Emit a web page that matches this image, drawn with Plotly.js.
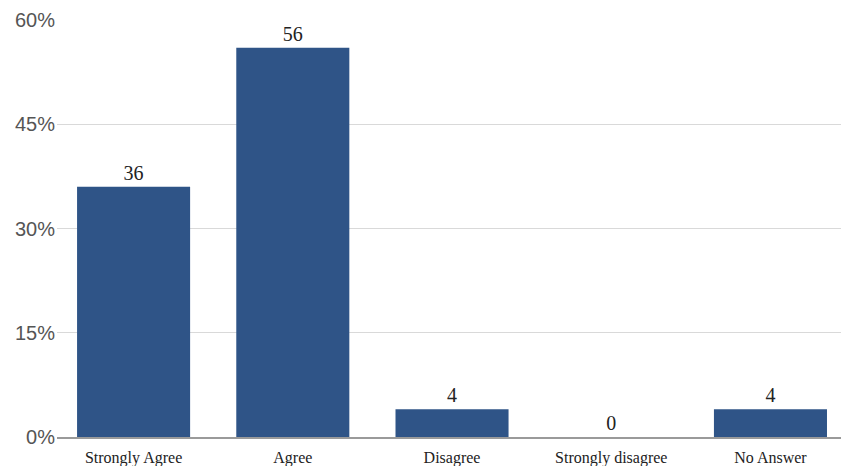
<!DOCTYPE html>
<html>
<head>
<meta charset="utf-8">
<script src="https://cdn.plot.ly/plotly-3.0.1.min.js"></script>
<style>
  html, body { margin: 0; padding: 0; background: #fff; }
  #chart { width: 841px; height: 466px; }
</style>
</head>
<body>
<div id="chart"></div>
<script>
const categories = ["Strongly Agree", "Agree", "Disagree", "Strongly disagree", "No Answer"];
const percentValues = [36, 56, 4, 0, 4];
const yTickValues = [0, 15, 30, 45, 60];
const yTickLabels = ["0%", "15%", "30%", "45%", "60%"];

const trace = {
  type: "bar",
  x: categories,
  y: percentValues,
  marker: { color: "#2f5487" },
  text: percentValues.map(String),
  textposition: "outside",
  textfont: { family: "Liberation Serif, Times New Roman, serif", size: 20, color: "#222" },
  cliponaxis: false,
  hoverinfo: "skip"
};

const layout = {
  width: 841,
  height: 466,
  margin: { l: 57, r: 0, t: 20, b: 29 },
  paper_bgcolor: "#fff",
  plot_bgcolor: "#fff",
  bargap: 0.29,
  showlegend: false,
  xaxis: {
    type: "category",
    range: [-0.481, 4.443],
    showgrid: false,
    showline: true,
    linecolor: "#9a9a9a",
    linewidth: 1.5,
    ticks: "",
    ticklabelstandoff: 5,
    tickfont: { family: "Liberation Serif, Times New Roman, serif", size: 16, color: "#222" },
    fixedrange: true
  },
  yaxis: {
    range: [0, 60],
    tickvals: yTickValues,
    ticktext: yTickLabels,
    showgrid: true,
    gridcolor: "#d9d9d9",
    gridwidth: 1,
    zeroline: false,
    showline: false,
    ticks: "",
    ticklabelstandoff: 1,
    tickfont: { family: "Liberation Sans, Arial, sans-serif", size: 20, color: "#555" },
    fixedrange: true
  }
};

Plotly.newPlot("chart", [trace], layout, { displayModeBar: false, staticPlot: true });
</script>
</body>
</html>
